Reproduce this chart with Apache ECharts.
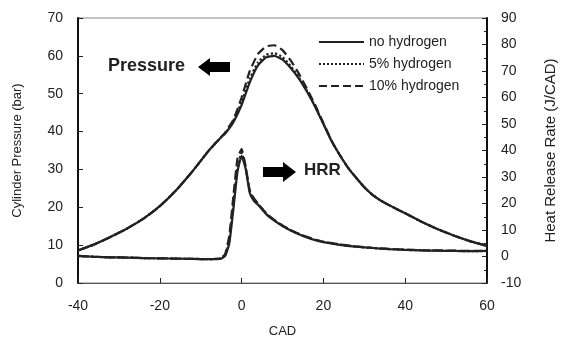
<!DOCTYPE html>
<html>
	<head>
		<meta charset="UTF-8">
		<title>Cylinder pressure and HRR</title>
		<style>
			html, body { margin: 0; padding: 0; background: #fff; }
			#chart { width: 566px; height: 343px; }
		</style>
	</head>
	<body>
		<div id="chart"></div>
	</body>
	<script src="https://cdn.jsdelivr.net/npm/echarts@6/dist/echarts.min.js" type="text/javascript" charset="utf-8"></script>
	<script type="text/javascript">
		// crank angle positions (CAD)
		var cadP = [-40, -36, -32, -28, -24, -20, -16, -12, -8, -5, -4, -2, 0, 2, 4, 6, 8, 10, 12, 14, 16, 18, 20, 22, 24, 26, 28, 30, 32, 34, 36, 38, 40, 44, 48, 52, 56, 60];
		// cylinder pressure (bar)
		var pNone = [8.6, 10.2, 12.2, 14.4, 17.0, 20.3, 24.5, 29.5, 35.0, 38.5, 39.5, 42.5, 47.0, 53.0, 57.5, 59.6, 60.0, 59.0, 56.8, 54.0, 50.5, 46.5, 42.0, 37.5, 33.8, 30.5, 27.8, 25.3, 23.3, 21.8, 20.6, 19.5, 18.4, 16.2, 14.2, 12.5, 11.0, 9.8];
		var p5 = [8.6, 10.2, 12.2, 14.4, 17.0, 20.3, 24.5, 29.5, 35.0, 38.5, 39.6, 42.8, 47.8, 54.0, 58.3, 60.3, 60.7, 59.7, 57.3, 54.3, 50.7, 46.6, 42.1, 37.5, 33.8, 30.5, 27.8, 25.3, 23.3, 21.8, 20.6, 19.5, 18.4, 16.2, 14.2, 12.5, 11.0, 9.8];
		var p10 = [8.6, 10.2, 12.2, 14.4, 17.0, 20.3, 24.5, 29.5, 35.0, 38.6, 39.8, 43.2, 49.0, 56.0, 60.5, 62.5, 62.8, 61.5, 58.8, 55.3, 51.3, 47.0, 42.3, 37.6, 33.8, 30.5, 27.8, 25.3, 23.3, 21.8, 20.6, 19.5, 18.4, 16.2, 14.2, 12.5, 11.0, 9.8];

		var cadH = [-40, -36, -32, -28, -24, -20, -16, -12, -8, -5, -4, -3, -2, -1, 0, 1, 2, 3, 4, 6, 8, 10, 12, 14, 16, 18, 20, 24, 28, 32, 36, 40, 44, 48, 52, 56, 60];
		// heat release rate (J/CAD)
		var hNone = [0.2, -0.1, -0.3, -0.4, -0.6, -0.7, -0.8, -0.9, -1.0, -0.8, 0.3, 5.0, 18.0, 32.0, 38.0, 33.0, 24.0, 21.0, 19.5, 16.0, 13.5, 11.5, 9.8, 8.4, 7.2, 6.2, 5.4, 4.4, 3.7, 3.2, 2.8, 2.5, 2.3, 2.2, 2.1, 2.0, 2.1];
		var h5 = [0.2, -0.1, -0.3, -0.4, -0.6, -0.7, -0.8, -0.9, -1.0, -0.7, 0.6, 6.0, 20.0, 34.0, 39.0, 33.5, 24.5, 21.5, 19.8, 16.2, 13.6, 11.6, 9.9, 8.5, 7.3, 6.3, 5.5, 4.5, 3.7, 3.2, 2.8, 2.5, 2.3, 2.2, 2.1, 2.0, 2.1];
		var h10 = [0.2, -0.1, -0.3, -0.4, -0.6, -0.7, -0.8, -0.9, -1.0, -0.6, 1.0, 8.0, 23.0, 37.0, 40.5, 34.0, 25.0, 22.0, 20.0, 16.4, 13.8, 11.7, 10.0, 8.6, 7.4, 6.4, 5.6, 4.6, 3.8, 3.3, 2.9, 2.6, 2.4, 2.3, 2.2, 2.1, 2.2];

		var xTicks = [-40, -20, 0, 20, 40, 60];
		var legendNames = ['no hydrogen', '5% hydrogen', '10% hydrogen'];

		function pairs(xs, ys) {
			return xs.map(function (x, i) { return [x, ys[i]]; });
		}

		var chart = echarts.init(document.getElementById('chart'));
		var ink = '#222';
		var font = 'Liberation Sans';

		function line(name, xs, ys, type, axis) {
			return {
				name: name,
				type: 'line',
				yAxisIndex: axis,
				data: pairs(xs, ys),
				smooth: 0.15,
				symbol: 'none',
				lineStyle: { color: ink, width: 2.2, type: type },
				itemStyle: { color: ink }
			};
		}

		var option = {
			animation: false,
			backgroundColor: '#fff',
			textStyle: { fontFamily: font },
			grid: { left: 78, right: 79, top: 18, bottom: 57, show: true, borderColor: '#888', borderWidth: 1 },
			legend: {
				data: legendNames,
				orient: 'vertical',
				left: 313,
				top: 30,
				itemWidth: 45,
				itemHeight: 10,
				itemGap: 8,
				itemStyle: { color: 'rgba(0,0,0,0)', borderWidth: 0 },
				textStyle: { fontSize: 14, color: '#222', fontFamily: font }
			},
			xAxis: {
				type: 'value',
				min: -40, max: 60, interval: 20,
				name: 'CAD',
				nameLocation: 'middle',
				nameGap: 42,
				nameTextStyle: { fontSize: 13, color: '#222' },
				axisLine: { onZero: false, lineStyle: { color: '#555', width: 1 } },
				axisTick: { inside: true, length: 5, lineStyle: { color: '#222' } },
				axisLabel: {
					fontSize: 14, color: '#222', margin: 16,
					formatter: function (v) { return xTicks.indexOf(v) >= 0 ? String(v) : ''; }
				},
				splitLine: { show: false }
			},
			yAxis: [{
				type: 'value',
				min: 0, max: 70, interval: 10,
				name: 'Cylinder Pressure (bar)',
				nameLocation: 'middle',
				nameRotate: 90,
				nameGap: 54,
				nameTextStyle: { fontSize: 13, color: '#222' },
				axisLine: { show: true, onZero: false, lineStyle: { color: '#111', width: 2 } },
				axisTick: { inside: true, length: 5, lineStyle: { color: '#222' } },
				axisLabel: { fontSize: 14, color: '#222', margin: 15 },
				splitLine: { show: false }
			}, {
				type: 'value',
				min: -10, max: 90, interval: 10,
				position: 'right',
				name: 'Heat Release Rate (J/CAD)',
				nameLocation: 'middle',
				nameRotate: 90,
				nameGap: 56,
				nameTextStyle: { fontSize: 15, color: '#222' },
				axisLine: { show: true, onZero: false, lineStyle: { color: '#111', width: 2 } },
				axisTick: { inside: true, length: 5, lineStyle: { color: '#222' } },
				minorTick: { show: true, splitNumber: 2, length: 3, lineStyle: { color: '#222' } },
				axisLabel: { fontSize: 14, color: '#222', margin: 14 },
				splitLine: { show: false }
			}],
			graphic: [
				{ type: 'text', left: 108, top: 57, style: { text: 'Pressure', fontSize: 18, fontWeight: 'bold', fill: '#222', fontFamily: font } },
				{ type: 'polygon', shape: { points: [[198, 67], [210, 58], [210, 62], [230, 62], [230, 72], [210, 72], [210, 76]] }, style: { fill: '#000' } },
				{ type: 'text', left: 304, top: 162, style: { text: 'HRR', fontSize: 17, fontWeight: 'bold', fill: '#222', fontFamily: font } },
				{ type: 'polygon', shape: { points: [[263, 167], [283, 167], [283, 162], [296, 172], [283, 182], [283, 177], [263, 177]] }, style: { fill: '#000' } }
			],
			series: [
				line('no hydrogen', cadP, pNone, 'solid', 0),
				line('5% hydrogen', cadP, p5, 'dotted', 0),
				line('10% hydrogen', cadP, p10, 'dashed', 0),
				line('no hydrogen', cadH, hNone, 'solid', 1),
				line('5% hydrogen', cadH, h5, 'dotted', 1),
				line('10% hydrogen', cadH, h10, 'dashed', 1)
			]
		};

		chart.setOption(option);
	</script>
</html>
